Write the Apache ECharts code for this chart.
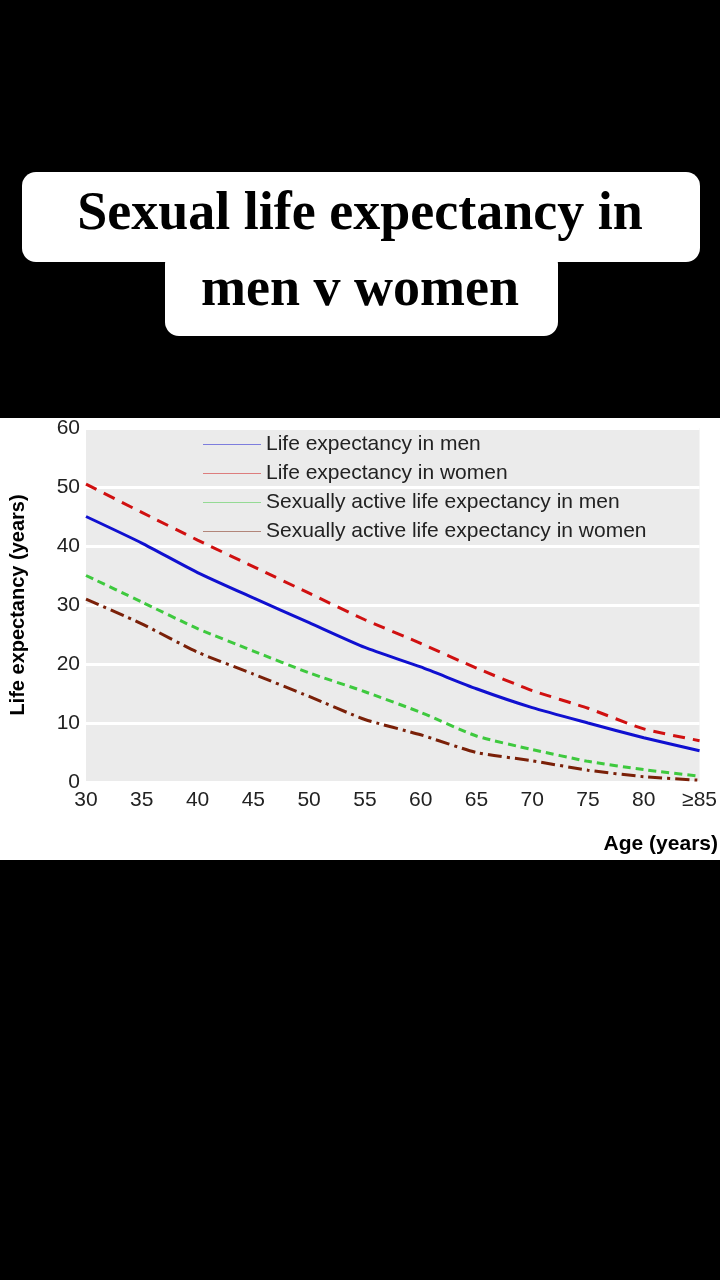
<!DOCTYPE html>
<html>
<head>
<meta charset="utf-8">
<script src="https://cdn.jsdelivr.net/npm/echarts@6/dist/echarts.min.js"></script>
<style>html,body{margin:0;padding:0;background:#000}#c{width:720px;height:1280px}</style>
</head>
<body>
<div id="c"></div>
<script>
var ages = ['30', '35', '40', '45', '50', '55', '60', '65', '70', '75', '80', '≥85'];
var lifeMen = [45, 40.5, 35.5, 31.2, 27, 22.8, 19.5, 15.8, 12.6, 10, 7.5, 5.3];
var lifeWomen = [50.5, 45.7, 41, 36.5, 32, 27.5, 23.5, 19.3, 15.5, 12.5, 9, 7];
var activeMen = [35, 30.5, 26, 22.2, 18.5, 15.3, 11.8, 7.8, 5.5, 3.5, 2.1, 1];
var activeWomen = [31, 26.8, 22, 18.3, 14.5, 10.6, 8, 5, 3.6, 2, 0.9, 0.3];

var chart = echarts.init(document.getElementById('c'));
var font = 'Liberation Sans Narrow, Liberation Sans, sans-serif';
function line(name, data, color, type) {
  return {
    name: name, type: 'line', data: data, symbol: 'none', smooth: 0.2,
    lineStyle: { color: color, width: 3, type: type },
    itemStyle: { color: color }
  };
}
chart.setOption({
  backgroundColor: '#000',
  animation: false,
  graphic: [
    { type: 'rect', shape: { x: 0, y: 418, width: 720, height: 442 }, style: { fill: '#fff' }, z: -10 },
    { type: 'rect', shape: { x: 22, y: 172, width: 678, height: 90, r: 14 }, style: { fill: '#fff' } },
    { type: 'rect', shape: { x: 165, y: 250, width: 393, height: 86, r: 14 }, style: { fill: '#fff' } },
    { type: 'text', left: 'center', top: 188, style: { text: 'Sexual life expectancy in', font: 'bold 54px "Liberation Serif", serif', fill: '#000' } },
    { type: 'text', left: 'center', top: 264, style: { text: 'men v women', font: 'bold 54px "Liberation Serif", serif', fill: '#000' } },
    { type: 'text', right: 2, top: 834, style: { text: 'Age (years)', font: 'bold 21px ' + font, fill: '#000' } }
  ],
  legend: {
    orient: 'vertical', left: 198, top: 429, itemGap: 8, itemWidth: 58, itemHeight: 14,
    textStyle: { fontFamily: font, fontSize: 21, color: '#222' },
    icon: 'path://M0,0L1,0L1,0.01L0,0.01Z'
  },
  grid: { left: 80, right: 15, top: 428, height: 354, backgroundColor: '#ebebeb', show: true, borderWidth: 0 },
  xAxis: {
    type: 'category', data: ages, boundaryGap: false,
    axisLine: { show: false }, axisTick: { show: false },
    axisLabel: { fontFamily: font, fontSize: 21, color: '#222', margin: 8, showMaxLabel: true }
  },
  yAxis: {
    type: 'value', min: 0, max: 60, interval: 10,
    name: 'Life expectancy (years)', nameLocation: 'middle', nameGap: 58, nameRotate: 90,
    nameTextStyle: { fontFamily: font, fontSize: 20, fontWeight: 'bold', color: '#000' },
    axisLine: { show: false }, axisTick: { show: false },
    axisLabel: { fontFamily: font, fontSize: 21, color: '#222', margin: 6 },
    splitLine: { lineStyle: { color: '#fff', width: 3 } }
  },
  series: [
    line('Life expectancy in men', lifeMen, '#1010d0', 'solid'),
    line('Life expectancy in women', lifeWomen, '#d01010', [12, 8]),
    line('Sexually active life expectancy in men', activeMen, '#3ec93e', [8, 5]),
    line('Sexually active life expectancy in women', activeWomen, '#7a2008', [14, 5, 3, 5])
  ]
});
</script>
</body>
</html>
